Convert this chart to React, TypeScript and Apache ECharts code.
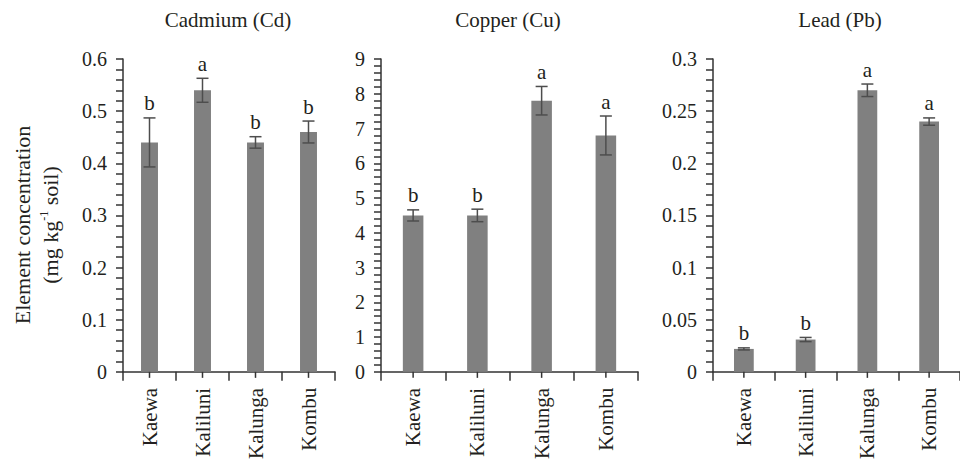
import React, { useEffect, useRef } from "react";
import * as echarts from "echarts";

const categories = ["Kaewa", "Kaliluni", "Kalunga", "Kombu"];

const cdMeans = [0.44, 0.54, 0.44, 0.46];
const cdErrors = [0.047, 0.023, 0.011, 0.021];
const cdLetters = ["b", "a", "b", "b"];

const cuMeans = [4.5, 4.5, 7.8, 6.8];
const cuErrors = [0.16, 0.18, 0.41, 0.56];
const cuLetters = ["b", "b", "a", "a"];

const pbMeans = [0.022, 0.031, 0.27, 0.24];
const pbErrors = [0.001, 0.002, 0.006, 0.0035];
const pbLetters = ["b", "b", "a", "a"];

const panelTitles = ["Cadmium (Cd)", "Copper (Cu)", "Lead (Pb)"];
const yMax = [0.6, 9, 0.3];
const yInterval = [0.1, 1, 0.05];

const FONT = "Liberation Serif";
const TEXT = "#231f20";
const AXIS = "#333333";
const BAR = "#808080";
const ERR = "#4d4d4d";

const grids = [
  { left: 123, top: 59, width: 212, height: 315 },
  { left: 381, top: 59, width: 257, height: 315 },
  { left: 713, top: 59, width: 255, height: 315 },
];

export default function App() {
  const ref = useRef<HTMLDivElement>(null);
  useEffect(() => {
    if (!ref.current) return;
    const chart = echarts.init(ref.current, undefined, { renderer: "svg" });
    const panels = [
      { means: cdMeans, errs: cdErrors, letters: cdLetters },
      { means: cuMeans, errs: cuErrors, letters: cuLetters },
      { means: pbMeans, errs: pbErrors, letters: pbLetters },
    ];

    const xAxis: any[] = [];
    const yAxis: any[] = [];
    const series: any[] = [];

    panels.forEach((p, i) => {
      xAxis.push({
        type: "category",
        gridIndex: i,
        data: categories,
        axisLine: { lineStyle: { color: AXIS, width: 1.5 } },
        axisTick: { show: true, length: 9, lineStyle: { color: AXIS, width: 1.5 } },
        axisLabel: {
          rotate: 90,
          margin: 16,
          interval: 0,
          color: TEXT,
          fontFamily: FONT,
          fontSize: 21,
        },
        splitLine: { show: false },
      });
      yAxis.push({
        type: "value",
        gridIndex: i,
        min: 0,
        max: yMax[i],
        interval: yInterval[i],
        axisLine: { show: true, lineStyle: { color: AXIS, width: 1.5 } },
        axisTick: { show: true, length: 7, lineStyle: { color: AXIS, width: 1.5 } },
        minorTick: { show: true, splitNumber: 5, length: 7, lineStyle: { color: AXIS, width: 1.5 } },
        axisLabel: { margin: 16, color: TEXT, fontFamily: FONT, fontSize: 20 },
        splitLine: { show: false },
      });
      series.push({
        type: "bar",
        xAxisIndex: i,
        yAxisIndex: i,
        data: p.means,
        barWidth: "32%",
        itemStyle: { color: BAR },
        silent: true,
        z: 2,
      });
      series.push({
        type: "custom",
        xAxisIndex: i,
        yAxisIndex: i,
        silent: true,
        z: 5,
        data: categories.map((_, k) => [k, p.means[k], p.errs[k]]),
        renderItem: (params: any, api: any) => {
          const k = api.value(0);
          const m = api.value(1);
          const e = api.value(2);
          const top = api.coord([k, m + e]);
          const bot = api.coord([k, m - e]);
          const zero = api.coord([k, 0]);
          const x = top[0];
          const cap = 6;
          const ls = { stroke: ERR, lineWidth: 1.5 };
          return {
            type: "group",
            children: [
              { type: "line", shape: { x1: x, y1: top[1], x2: x, y2: bot[1] }, style: ls },
              { type: "line", shape: { x1: x - cap, y1: top[1], x2: x + cap, y2: top[1] }, style: ls },
              { type: "line", shape: { x1: x - cap, y1: bot[1], x2: x + cap, y2: bot[1] }, style: ls },
              {
                type: "line",
                shape: { x1: x, y1: zero[1], x2: x, y2: zero[1] + 6 },
                style: { stroke: AXIS, lineWidth: 1.5 },
              },
              {
                type: "text",
                x: x,
                y: top[1] - 4,
                style: {
                  text: p.letters[params.dataIndex],
                  align: "center",
                  textAlign: "center",
                  verticalAlign: "bottom",
                  textVerticalAlign: "bottom",
                  fill: TEXT,
                  fontFamily: FONT,
                  fontSize: 21,
                },
              },
            ],
          };
        },
      });
    });

    const titleCenters = [228, 508, 840];
    const graphic: any[] = panelTitles.map((t, i) => ({
      type: "text",
      x: titleCenters[i],
      y: 20,
      style: {
        text: t,
        align: "center",
        textAlign: "center",
        verticalAlign: "middle",
        textVerticalAlign: "middle",
        fill: TEXT,
        fontFamily: FONT,
        fontSize: 21,
      },
    }));
    graphic.push({
      type: "text",
      x: 22,
      y: 225,
      rotation: Math.PI / 2,
      style: {
        text: "Element concentration",
        align: "center",
        textAlign: "center",
        verticalAlign: "middle",
        textVerticalAlign: "middle",
        fill: TEXT,
        fontFamily: FONT,
        fontSize: 22,
      },
    });
    graphic.push({
      type: "text",
      x: 50,
      y: 225,
      rotation: Math.PI / 2,
      style: {
        text: "{n|(mg kg}{s|-1}{n| soil)}",
        align: "center",
        textAlign: "center",
        verticalAlign: "middle",
        textVerticalAlign: "middle",
        fill: TEXT,
        fontFamily: FONT,
        fontSize: 22,
        rich: {
          n: { fontFamily: FONT, fontSize: 22, fill: TEXT, color: TEXT, lineHeight: 24 },
          s: { fontFamily: FONT, fontSize: 12, fill: TEXT, color: TEXT, verticalAlign: "top", lineHeight: 14 },
        },
      },
    });

    chart.setOption({
      animation: false,
      backgroundColor: "#ffffff",
      grid: grids,
      xAxis,
      yAxis,
      series,
      graphic,
    });
    return () => chart.dispose();
  }, []);
  return (
    <div
      ref={ref}
      style={{ position: "absolute", left: 0, top: 0, width: 960, height: 462 }}
    />
  );
}
